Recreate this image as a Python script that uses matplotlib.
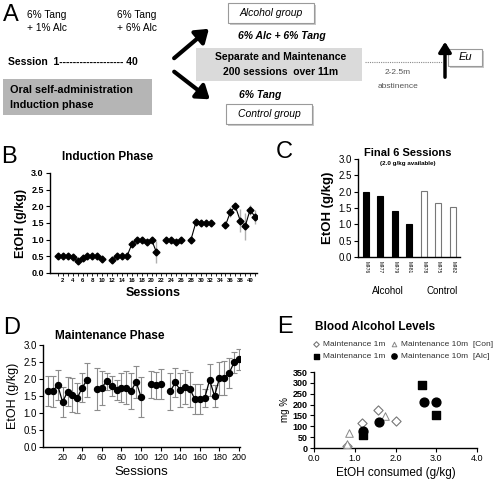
import numpy as np
import matplotlib
matplotlib.use("Agg")
import matplotlib.pyplot as plt
from matplotlib.patches import Rectangle, FancyArrowPatch
from matplotlib.lines import Line2D

plt.rcParams['font.family'] = ['Liberation Sans', 'DejaVu Sans']

W, H = 496, 482
nan = np.nan

# ---------------- data ----------------
ind_sessions = np.arange(1, 42)
ind_vals = [0.5, 0.5, 0.5, 0.47, 0.35, 0.45, 0.5, 0.5, 0.5, 0.42, nan,
            0.40, 0.5, 0.5, 0.5, 0.86, 1.0, 1.0, 0.92, 1.0, 0.62, nan,
            1.0, 1.0, 0.92, 1.0, nan, 1.0, 1.52, 1.5, 1.5, 1.5, nan, nan,
            1.43, 1.83, 2.0, 1.57, 1.4, 1.9, 1.68]
ind_err = [0, 0, 0, 0, 0, 0, 0, 0, 0, 0, 0,
           0.1, 0, 0, 0, 0, 0, 0, 0, 0, 0.33, 0,
           0, 0, 0, 0, 0, 0, 0, 0, 0, 0, 0, 0,
           0.05, 0.15, 0.1, 0.35, 0.4, 0.15, 0.2]
ind_ticks = list(range(2, 41, 2))

monkeys = ['M476', 'M477', 'M479', 'M481', 'M478', 'M475', 'M482']
final6 = [1.98, 1.86, 1.40, 1.02, 2.02, 1.64, 1.54]
groups = ['Alcohol', 'Alcohol', 'Alcohol', 'Alcohol', 'Control', 'Control', 'Control']

maint_sessions = np.arange(5, 201, 5)
maint_vals = [1.65, 1.64, 1.82, 1.32, 1.63, 1.54, 1.44, 1.75, 1.97, nan,
              1.70, 1.75, 1.94, 1.79, 1.68, 1.75, 1.75, 1.65, 1.92, 1.47, nan,
              1.84, 1.82, 1.85, nan,
              1.64, 1.90, 1.67, 1.77, 1.70, 1.40, 1.41, 1.44, 1.97, 1.50,
              2.02, 2.04, 2.18, 2.49, 2.58]
maint_err = [0.43, 0.45, 0.44, 0.44, 0.43, 0.50, 0.45, 0.42, 0.50, nan,
             0.62, 0.50, 0.25, 0.30, 0.29, 0.42, 0.48, 0.52, 0.47, 0.59, nan,
             0.40, 0.40, 0.45, nan,
             0.55, 0.43, 0.50, 0.50, 0.52, 0.44, 0.44, 0.26, 0.48, 0.31,
             0.48, 0.50, 0.44, 0.31, 0.31]

bal_con1_x = [0.8, 1.17, 1.56, 2.0]
bal_con1_y = [10, 113, 173, 125]
bal_con10_x = [0.8, 0.87, 1.74]
bal_con10_y = [18, 67, 147]
bal_alc1_x = [1.2, 2.65, 3.0]
bal_alc1_y = [61, 289, 151]
bal_alc10_x = [1.2, 1.59, 2.69, 3.0]
bal_alc10_y = [76, 118, 211, 211]

# ---------------- figure ----------------
fig = plt.figure(figsize=(W / 100, H / 100), dpi=100)
fig.patch.set_facecolor('white')


def fx(x):
    return x / W


def fy(y):
    return 1 - y / H


def axes_px(x0, x1, y0, y1):
    return fig.add_axes([fx(x0), fy(y1), (x1 - x0) / W, (y1 - y0) / H])


def style(ax):
    ax.spines['top'].set_visible(False)
    ax.spines['right'].set_visible(False)
    for s in ('left', 'bottom'):
        ax.spines[s].set_linewidth(1.0)
    ax.tick_params(direction='out', length=3, width=0.8, pad=1.5)


# ---------------- Panel A ----------------
fig.text(fx(3), fy(15), 'A', fontsize=17, va='center', ha='left')
fig.text(fx(27), fy(15), '6% Tang', fontsize=7.3, va='center', ha='left')
fig.text(fx(27), fy(28), '+ 1% Alc', fontsize=7.3, va='center', ha='left')
fig.text(fx(117), fy(15), '6% Tang', fontsize=7.3, va='center', ha='left')
fig.text(fx(117), fy(28), '+ 6% Alc', fontsize=7.3, va='center', ha='left')
fig.text(fx(8), fy(62), 'Session  1------------------- 40', fontsize=7.5,
         fontweight='bold', va='center', ha='left')

fig.patches.append(Rectangle((fx(3), fy(115)), 149 / W, 36 / H,
                             transform=fig.transFigure, facecolor='#b5b5b5',
                             edgecolor='none'))
fig.text(fx(10), fy(90), 'Oral self-administration', fontsize=7.8,
         fontweight='bold', va='center', ha='left')
fig.text(fx(10), fy(105), 'Induction phase', fontsize=7.8,
         fontweight='bold', va='center', ha='left')

for (x0, y0, x1, y1) in [(172, 60, 211, 27), (172, 70, 212, 101)]:
    fig.patches.append(FancyArrowPatch((fx(x0), fy(y0)), (fx(x1), fy(y1)),
                                       transform=fig.transFigure,
                                       arrowstyle='-|>,head_length=5,head_width=3.5',
                                       linewidth=3, color='black',
                                       mutation_scale=1.5))


def box(x0, y0, x1, y1, text, fs=7.5):
    fig.patches.append(Rectangle((fx(x0) + 2 / W, fy(y1) - 2 / H), (x1 - x0) / W, (y1 - y0) / H,
                                 transform=fig.transFigure, facecolor='#c8c8c8',
                                 edgecolor='none'))
    fig.patches.append(Rectangle((fx(x0), fy(y1)), (x1 - x0) / W, (y1 - y0) / H,
                                 transform=fig.transFigure, facecolor='white',
                                 edgecolor='#9a9a9a', linewidth=0.8))
    fig.text(fx((x0 + x1) / 2), fy((y0 + y1) / 2), text, fontsize=fs,
             fontstyle='italic', va='center', ha='center')


box(228, 3, 314, 23, 'Alcohol group')
box(226, 104, 312, 124, 'Control group')
box(448, 49, 482, 66, 'Eu', fs=8)

fig.text(fx(238), fy(36), '6% Alc + 6% Tang', fontsize=7.5, fontweight='bold',
         fontstyle='italic', va='center', ha='left')
fig.text(fx(239), fy(95), '6% Tang', fontsize=7.5, fontweight='bold',
         fontstyle='italic', va='center', ha='left')

fig.patches.append(Rectangle((fx(196), fy(81)), 166 / W, 33 / H,
                             transform=fig.transFigure, facecolor='#dadada',
                             edgecolor='none'))
fig.text(fx(281), fy(57), 'Separate and Maintenance', fontsize=7.5,
         fontweight='bold', va='center', ha='center')
fig.text(fx(281), fy(72), '200 sessions  over 11m', fontsize=7.5,
         fontweight='bold', va='center', ha='center')

fig.lines.append(Line2D([fx(365), fx(442)], [fy(62), fy(62)], transform=fig.transFigure,
                        color='#8a8a8a', linestyle=(0, (1, 1)), linewidth=0.8))
fig.text(fx(398), fy(73), '2-2.5m', fontsize=6, color='#555555', va='center', ha='center')
fig.text(fx(398), fy(86), 'abstinence', fontsize=6, color='#555555', va='center', ha='center')
fig.patches.append(FancyArrowPatch((fx(445), fy(80)), (fx(445), fy(39)),
                                   transform=fig.transFigure,
                                   arrowstyle='-|>,head_length=4,head_width=2.5',
                                   linewidth=2.5, color='black', mutation_scale=1.5))

# ---------------- Panel B ----------------
axB = axes_px(50, 257, 173, 273)
style(axB)
axB.errorbar(ind_sessions, ind_vals, yerr=ind_err, fmt='none', ecolor='#b0b0b0',
             elinewidth=1, capsize=0, zorder=1)
axB.plot(ind_sessions, ind_vals, color='black', linewidth=0.8, marker='D',
         markersize=3.5, markerfacecolor='black', markeredgecolor='black', zorder=3)
axB.set_xlim(-0.6, 41.4)
axB.set_ylim(0, 3)
axB.set_yticks(np.arange(0, 3.01, 0.5))
axB.set_yticklabels([f'{v:.1f}' for v in np.arange(0, 3.01, 0.5)], fontsize=6.5,
                    fontweight='bold')
axB.set_xticks(ind_ticks)
axB.set_xticklabels([str(t) for t in ind_ticks], fontsize=4.3, fontweight='bold')
axB.set_xticks(np.arange(1, 42), minor=True)
axB.tick_params(axis='x', which='both', length=2, width=0.6)
axB.set_ylabel('EtOH (g/kg)', fontsize=9, fontweight='bold', labelpad=3)
axB.set_xlabel('Sessions', fontsize=9, fontweight='bold', labelpad=3)
fig.text(fx(62), fy(157), 'Induction Phase', fontsize=8.5, fontweight='bold',
         va='center', ha='left')
fig.text(fx(1), fy(157), 'B', fontsize=17, va='center', ha='left')

# ---------------- Panel C ----------------
axC = axes_px(358, 460, 159, 257)
style(axC)
xpos = np.arange(len(monkeys))
colsC = ['black' if g == 'Alcohol' else 'white' for g in groups]
edgC = ['black' if g == 'Alcohol' else '#777777' for g in groups]
axC.bar(xpos, final6, width=0.42, color=colsC, edgecolor=edgC, linewidth=0.8)
axC.set_xlim(-0.55, 6.5)
axC.set_ylim(0, 3)
axC.set_yticks(np.arange(0, 3.01, 0.5))
axC.set_yticklabels([f'{v:.1f}' for v in np.arange(0, 3.01, 0.5)], fontsize=7)
axC.set_xticks(xpos)
axC.set_xticklabels(monkeys, rotation=270, fontsize=3.5)
axC.tick_params(axis='x', length=0, pad=3)
axC.set_ylabel('EtOH (g/kg)', fontsize=9.5, fontweight='bold', labelpad=3)
fig.text(fx(408), fy(153), 'Final 6 Sessions', fontsize=8, fontweight='bold',
         va='center', ha='center')
fig.text(fx(408), fy(164), '(2.0 g/kg available)', fontsize=4.5, fontweight='bold',
         va='center', ha='center')
fig.text(fx(388), fy(291), 'Alcohol', fontsize=7, va='center', ha='center')
fig.text(fx(442), fy(291), 'Control', fontsize=7, va='center', ha='center')
fig.text(fx(276), fy(152), 'C', fontsize=17, va='center', ha='left')

# ---------------- Panel D ----------------
axD = axes_px(43, 240, 345, 447)
style(axD)
axD.errorbar(maint_sessions, maint_vals, yerr=maint_err, fmt='none', ecolor='#8c8c8c',
             elinewidth=0.8, capsize=2, capthick=0.8, zorder=1)
axD.plot(maint_sessions, maint_vals, color='black', linewidth=0.9, marker='o',
         markersize=4.3, zorder=3)
axD.set_xlim(0, 201)
axD.set_ylim(0, 3)
axD.set_yticks(np.arange(0, 3.01, 0.5))
axD.set_yticklabels([f'{v:.1f}' for v in np.arange(0, 3.01, 0.5)], fontsize=7)
axD.set_xticks(np.arange(20, 201, 20))
axD.set_xticklabels([str(t) for t in range(20, 201, 20)], fontsize=6.5)
axD.set_ylabel('EtOH (g/kg)', fontsize=9, labelpad=3)
axD.set_xlabel('Sessions', fontsize=9.5, labelpad=3)
fig.text(fx(55), fy(336), 'Maintenance Phase', fontsize=8.5, fontweight='bold',
         va='center', ha='left')
fig.text(fx(3), fy(328), 'D', fontsize=17, va='center', ha='left')

# ---------------- Panel E ----------------
axE = axes_px(314, 477, 372, 448)
style(axE)
h1 = axE.scatter(bal_con1_x, bal_con1_y, marker='D', s=22, facecolor='white',
                 edgecolor='#777777', linewidth=0.8, zorder=3)
h2 = axE.scatter(bal_con10_x, bal_con10_y, marker='^', s=30, facecolor='white',
                 edgecolor='#888888', linewidth=0.7, zorder=3)
h3 = axE.scatter(bal_alc1_x, bal_alc1_y, marker='s', s=36, facecolor='black',
                 edgecolor='black', zorder=4)
h4 = axE.scatter(bal_alc10_x, bal_alc10_y, marker='o', s=40, facecolor='black',
                 edgecolor='black', zorder=4)
axE.set_xlim(0, 4)
axE.set_ylim(0, 350)
axE.set_xticks([0, 1, 2, 3, 4])
axE.set_xticklabels(['0.0', '1.0', '2.0', '3.0', '4.0'], fontsize=6.5)
axE.set_yticks(np.arange(0, 351, 50))
axE.set_yticklabels([str(v) for v in range(0, 351, 50)], fontsize=6.5, fontweight='bold')
axE.set_ylabel('mg %', fontsize=7, labelpad=2)
axE.set_xlabel('EtOH consumed (g/kg)', fontsize=8.5, labelpad=3)
leg = axE.legend([h1, h3, h2, h4],
                 ['Maintenance 1m', 'Maintenance 1m', 'Maintenance 10m  [Con]',
                  'Maintenance 10m  [Alc]'],
                 ncol=2, loc='upper left', bbox_to_anchor=(fx(312), fy(340)),
                 bbox_transform=fig.transFigure, frameon=False, fontsize=6,
                 handletextpad=0.3, columnspacing=0.6, labelspacing=0.55,
                 handlelength=1.0, borderaxespad=0, borderpad=0, markerscale=0.6)
for t in leg.get_texts():
    t.set_color('#333333')
fig.text(fx(315), fy(327), 'Blood Alcohol Levels', fontsize=8.5, fontweight='bold',
         va='center', ha='left')
fig.text(fx(277), fy(327), 'E', fontsize=17, va='center', ha='left')

fig.savefig('out.png', dpi=100, facecolor='white')
